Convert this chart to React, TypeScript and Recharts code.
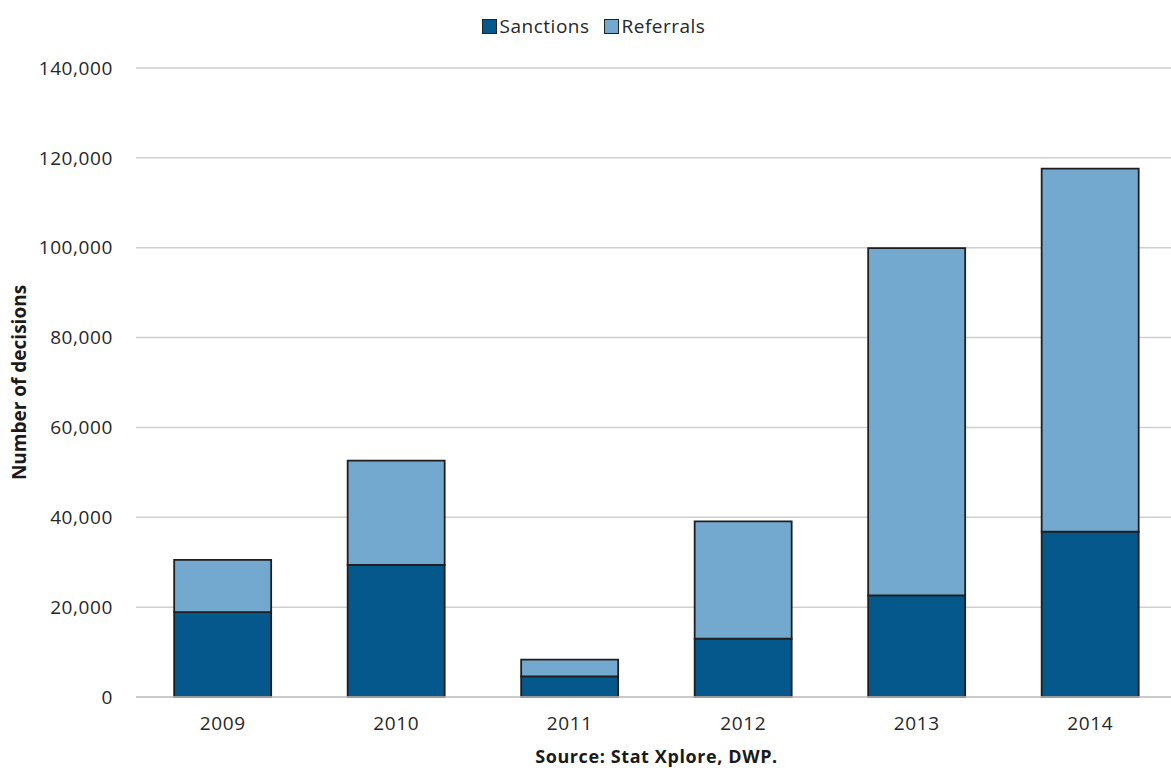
import React from 'react';
import { BarChart, Bar, XAxis, YAxis, CartesianGrid, Legend, Label } from 'recharts';

const years = ['2009', '2010', '2011', '2012', '2013', '2014'];
const sanctions = [18900, 29400, 4600, 13000, 22600, 36800];
const referrals = [11600, 23200, 3700, 26100, 77300, 80800];
const yTicks = [0, 20000, 40000, 60000, 80000, 100000, 120000, 140000];
const edgeTicks = [0, 1, 2, 3, 4, 5, 6];

const DARK = '#04588c';
const LIGHT = '#74a9cf';
const FONT = '"Open Sans", "Segoe UI", sans-serif';

const data = years.map((year, i) => ({
  year,
  Sanctions: sanctions[i],
  Referrals: referrals[i],
}));

const series = [
  { name: 'Sanctions', color: DARK },
  { name: 'Referrals', color: LIGHT },
];

const renderLegend = () => (
  <div
    style={{
      display: 'flex',
      justifyContent: 'center',
      gap: 14,
      fontFamily: FONT,
      fontSize: 19,
      letterSpacing: 0.5,
      color: '#262626',
    }}
  >
    {series.map(s => (
      <span key={s.name} style={{ display: 'flex', alignItems: 'center' }}>
        <span
          style={{
            width: 13,
            height: 13,
            background: s.color,
            border: '1.5px solid #222',
            marginRight: 3,
          }}
        />
        {s.name}
      </span>
    ))}
  </div>
);

export default function App() {
  return (
    <div
      style={{
        position: 'absolute',
        left: 0,
        top: 0,
        width: 1171,
        height: 768,
        overflow: 'hidden',
        background: '#fff',
      }}
    >
      <BarChart
        width={1180}
        height={768}
        data={data}
        margin={{ top: 68, right: 3, bottom: 0, left: 0 }}
        barCategoryGap="22%"
      >
        <CartesianGrid xAxisId="cat" vertical={false} stroke="#cfcfcf" strokeWidth={1.5} />
        <XAxis
          xAxisId="edges"
          type="number"
          domain={[0, years.length]}
          allowDataOverflow
          ticks={edgeTicks}
          tick={false}
          tickSize={7}
          tickLine={{ stroke: '#bfbfbf', strokeWidth: 1.5 }}
          axisLine={false}
          height={0}
        />
        <XAxis
          xAxisId="cat"
          dataKey="year"
          height={71}
          tickLine={false}
          tickMargin={14}
          axisLine={{ stroke: '#c4c4c4', strokeWidth: 1.5 }}
          tick={{ fontFamily: FONT, fontSize: 19, fill: '#262626', letterSpacing: 0.6 }}
        >
          <Label
            value="Source: Stat Xplore, DWP."
            position="insideBottom"
            offset={5}
            style={{ fontFamily: FONT, fontSize: 18, fontWeight: 700, fill: '#1a1a1a', letterSpacing: 0.6 }}
          />
        </XAxis>
        <YAxis
          width={136}
          domain={[0, 140000]}
          ticks={yTicks}
          tickLine={false}
          axisLine={false}
          tickMargin={17}
          tickFormatter={(v: number) => v.toLocaleString('en-US')}
          tick={{ fontFamily: FONT, fontSize: 19, fill: '#262626', letterSpacing: 0.6 }}
        >
          <Label
            value="Number of decisions"
            angle={-90}
            position="insideLeft"
            offset={19}
            style={{ textAnchor: 'middle', fontFamily: FONT, fontSize: 19, fontWeight: 700, fill: '#1a1a1a' }}
          />
        </YAxis>
        <Legend
          verticalAlign="middle"
          align="center"
          layout="horizontal"
          content={renderLegend}
          wrapperStyle={{ top: 13, left: 0, width: 1187 }}
        />
        <Bar
          xAxisId="cat"
          dataKey="Sanctions"
          stackId="a"
          fill={DARK}
          stroke="#1e1e1e"
          strokeWidth={1.8}
          isAnimationActive={false}
        />
        <Bar
          xAxisId="cat"
          dataKey="Referrals"
          stackId="a"
          fill={LIGHT}
          stroke="#1e1e1e"
          strokeWidth={1.8}
          isAnimationActive={false}
        />
      </BarChart>
    </div>
  );
}
